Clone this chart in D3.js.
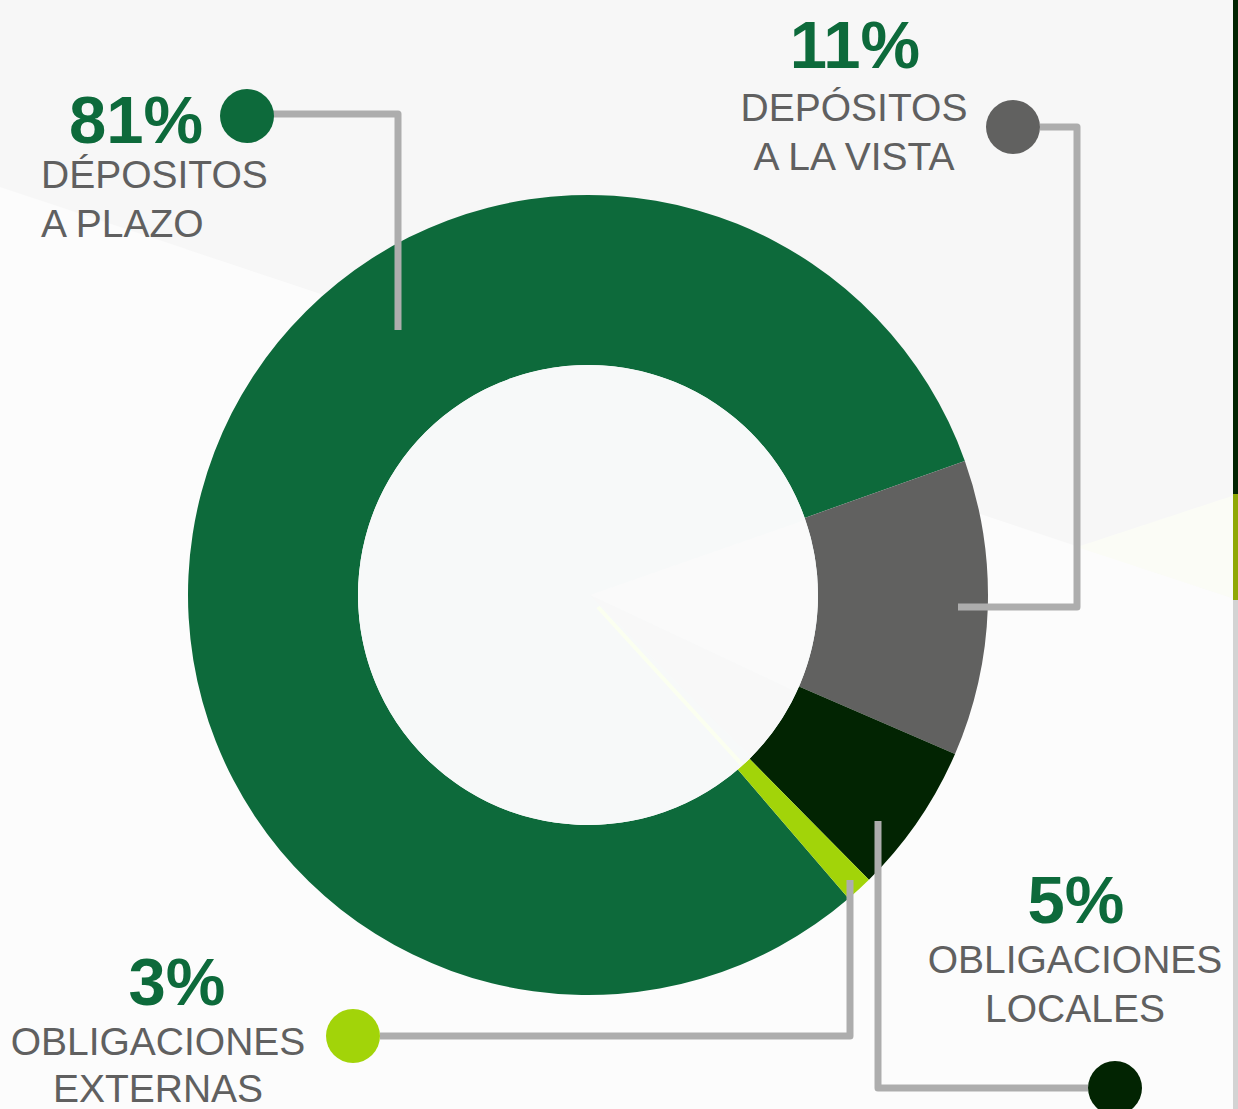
<!DOCTYPE html>
<html>
<head>
<meta charset="utf-8">
<script src="https://cdn.jsdelivr.net/npm/d3@7"></script>
<style>
  html, body { margin: 0; padding: 0; background: #fcfcfc; }
  svg { display: block; }
</style>
</head>
<body>
<svg id="chart" width="1238" height="1109"></svg>
<script>
// ---- data ----
const categories = ["DÉPOSITOS A PLAZO", "DEPÓSITOS A LA VISTA", "OBLIGACIONES LOCALES", "OBLIGACIONES EXTERNAS"];
const shares = [80.85, 11.95, 6.1, 1.1];          // arc sizes as drawn
const percentLabels = ["81%", "11%", "5%", "3%"];  // printed labels
const nameLines = [["DÉPOSITOS", "A PLAZO"], ["DEPÓSITOS", "A LA VISTA"], ["OBLIGACIONES", "LOCALES"], ["OBLIGACIONES", "EXTERNAS"]];

// ---- styles / layout ----
const colors = ["#0d6a3b", "#616160", "#022402", "#a2d409"];
const W = 1238, H = 1109;
const cx = 588, cy = 595, R = 400, r = 230;
const startDeg = 139.35;

// label layout: percent text, name text, dot, leader path (absolute page coords)
const layout = [
  { pct: [69, 143, "start"], name: [41, 188, "start"], lh: 49, dot: [247, 116], leader: [[273, 114], [398, 114], [398, 330]] },
  { pct: [855, 68, "middle"], name: [854, 121, "middle"], lh: 49, dot: [1013, 127], leader: [[1040, 127], [1077, 127], [1077, 607], [958, 607]] },
  { pct: [1076, 923, "middle"], name: [1075, 973, "middle"], lh: 49, dot: [1115, 1088], leader: [[1088, 1088], [878, 1088], [878, 821]] },
  { pct: [177, 1005, "middle"], name: [158, 1055, "middle"], lh: 47, dot: [353, 1036], leader: [[380, 1036], [850, 1036], [850, 880]] }
];

const svg = d3.select("#chart");

// background
svg.append("rect").attr("width", W).attr("height", H).attr("fill", "#fcfcfc");
svg.append("path").attr("d", `M0,0 L${W},0 L${W},600 L0,187 Z`).attr("fill", "#f7f7f7");
svg.append("path").attr("d", `M1077,547 L${W},494 L${W},600 Z`).attr("fill", "#fbfcf6");
// right edge bar
svg.append("rect").attr("x", 1233).attr("y", 0).attr("width", 5).attr("height", 494).attr("fill", "#022402");
svg.append("rect").attr("x", 1233).attr("y", 494).attr("width", 5).attr("height", 106).attr("fill", "#8fa805");
svg.append("rect").attr("x", 1233).attr("y", 600).attr("width", 5).attr("height", H - 600).attr("fill", "#d3d3d3");

// donut
const pie = d3.pie().sort(null).value(d => d)
  .startAngle(startDeg * Math.PI / 180)
  .endAngle(startDeg * Math.PI / 180 + 2 * Math.PI);
const arc = d3.arc().innerRadius(r).outerRadius(R);
const g = svg.append("g").attr("transform", `translate(${cx},${cy})`);
g.selectAll("path.slice").data(pie(shares)).join("path")
  .attr("class", "slice")
  .attr("d", arc)
  .attr("fill", (d, i) => colors[i]);

// hole
g.append("circle").attr("r", r).attr("fill", "#f7f9f9");
const clipId = "holeclip";
svg.append("defs").append("clipPath").attr("id", clipId).append("circle").attr("cx", cx).attr("cy", cy).attr("r", r - 1);
svg.append("path").attr("clip-path", `url(#${clipId})`)
  .attr("d", `M${cx + 2},${cy} L${cx + 300},${cy - 104} L${cx + 300},${cy + 140} Z`)
  .attr("fill", "#fafafa");
svg.append("path").attr("clip-path", `url(#${clipId})`)
  .attr("d", `M${cx + 2},${cy} L${cx + 300},${cy + 140} L${cx + 250},${cy + 250} Z`)
  .attr("fill", "#f8f8f8");
svg.append("line").attr("clip-path", `url(#${clipId})`)
  .attr("x1", cx + 10).attr("y1", cy + 12).attr("x2", cx + 200).attr("y2", cy + 220)
  .attr("stroke", "#fbfff0").attr("stroke-width", 4);

// leaders
const line = d3.line();
svg.selectAll("path.leader").data(layout).join("path")
  .attr("class", "leader")
  .attr("d", d => line(d.leader))
  .attr("fill", "none")
  .attr("stroke", "#adadad")
  .attr("stroke-width", 7)
  .attr("stroke-linejoin", "round");

// dots
svg.selectAll("circle.dot").data(layout).join("circle")
  .attr("class", "dot")
  .attr("cx", d => d.dot[0]).attr("cy", d => d.dot[1]).attr("r", 27)
  .attr("fill", (d, i) => colors[i]);

// percent labels
svg.selectAll("text.pct").data(layout).join("text")
  .attr("class", "pct")
  .attr("x", d => d.pct[0]).attr("y", d => d.pct[1])
  .attr("text-anchor", d => d.pct[2])
  .attr("font-family", "'Liberation Sans', Arial, sans-serif")
  .attr("font-weight", "bold")
  .attr("font-size", 67)
  .attr("fill", "#0d6a3b")
  .text((d, i) => percentLabels[i]);

// category names
layout.forEach((d, i) => {
  const t = svg.append("text")
    .attr("text-anchor", d.name[2])
    .attr("font-family", "'Liberation Sans', Arial, sans-serif")
    .attr("font-size", 39)
    .attr("fill", "#606060");
  nameLines[i].forEach((ln, k) => {
    t.append("tspan").attr("x", d.name[0]).attr("y", d.name[1] + k * d.lh).text(ln);
  });
});
</script>
</body>
</html>
